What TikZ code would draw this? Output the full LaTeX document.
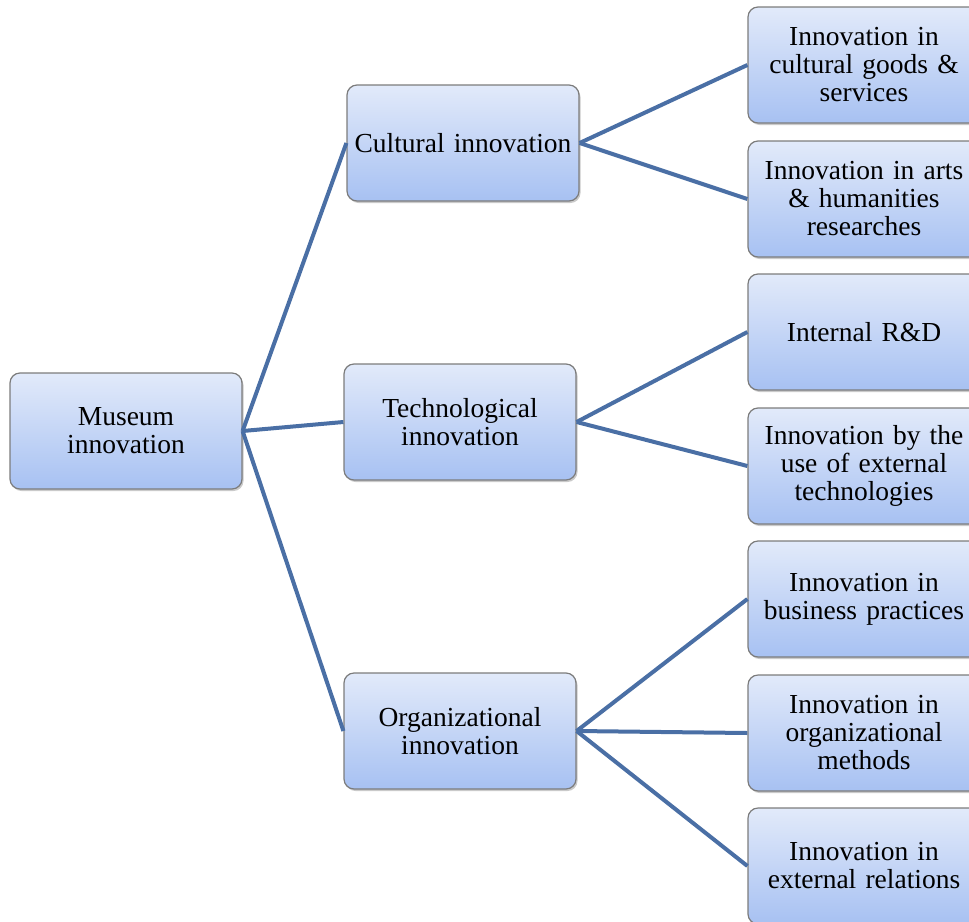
\documentclass[tikz,border=0pt]{standalone}
\usepackage{fontspec}
\setmainfont{Liberation Serif}
\usetikzlibrary{shadows}
\definecolor{linkblue}{HTML}{4A6FA5}
\definecolor{boxtop}{HTML}{E2EAFA}
\definecolor{boxbot}{HTML}{A7C1F2}
\definecolor{boxline}{HTML}{7C7C7C}
\tikzset{
  box/.style={draw=boxline, line width=1.2pt, rounded corners=10pt,
    top color=boxtop, bottom color=boxbot,
    minimum width=232pt, minimum height=116pt, inner sep=2pt,
    align=center, text width=228pt,
    font=\fontsize{27.5}{28}\selectfont,
    drop shadow={shadow xshift=1.5pt, shadow yshift=-2pt, opacity=0.35, fill=black!60}},
  link/.style={draw=linkblue, line width=4pt}
}
\begin{document}
\begin{tikzpicture}[x=1pt,y=-1pt]
\useasboundingbox (0,0) rectangle (969,921);
\clip (0,0) rectangle (969,921);
% root
\node[box] (museum) at (126,431) {Museum\\innovation};
% second level
\node[box] (cult) at (463,143) {Cultural innovation};
\node[box] (tech) at (460,422) {Technological\\innovation};
\node[box] (org)  at (460,731) {Organizational\\innovation};
% leaves
\node[box] (c1) at (864,65)  {Innovation in\\cultural goods \&\\services};
\node[box] (c2) at (864,199) {Innovation in arts\\\& humanities\\researches};
\node[box] (t1) at (864,332) {Internal R\&D};
\node[box] (t2) at (864,466) {Innovation by the\\use of external\\technologies};
\node[box] (o1) at (864,599) {Innovation in\\business practices};
\node[box] (o2) at (864,733) {Innovation in\\organizational\\methods};
\node[box] (o3) at (864,866) {Innovation in\\external relations};
% connectors
\draw[link] (museum.east) -- (cult.west);
\draw[link] (museum.east) -- (tech.west);
\draw[link] (museum.east) -- (org.west);
\draw[link] (cult.east) -- (c1.west);
\draw[link] (cult.east) -- (c2.west);
\draw[link] (tech.east) -- (t1.west);
\draw[link] (tech.east) -- (t2.west);
\draw[link] (org.east) -- (o1.west);
\draw[link] (org.east) -- (o2.west);
\draw[link] (org.east) -- (o3.west);
\end{tikzpicture}
\end{document}
